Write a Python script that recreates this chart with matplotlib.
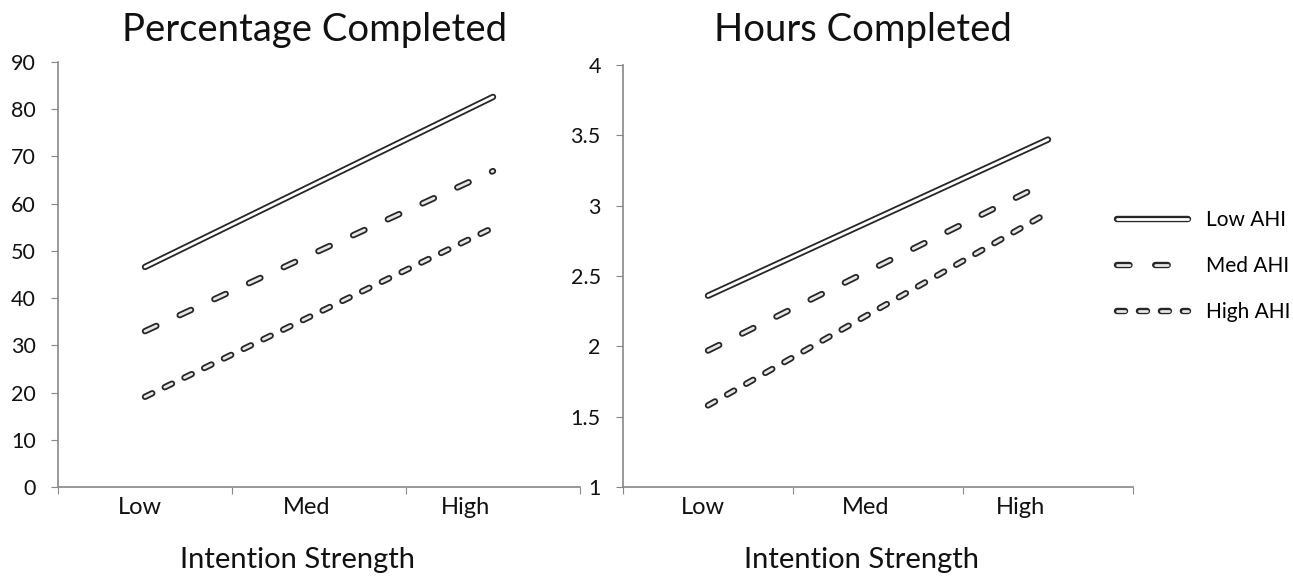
import matplotlib
matplotlib.use("Agg")
import matplotlib.pyplot as plt
import matplotlib.patheffects as pe

plt.rcParams['font.family'] = ['Lato', 'DejaVu Sans']
plt.rcParams['lines.scale_dashes'] = False

categories = ["Low", "Med", "High"]
series_names = ["Low AHI", "Med AHI", "High AHI"]
pct_low_ahi = [46.6, 64.6, 82.6]
pct_med_ahi = [33.0, 50.0, 66.9]
pct_high_ahi = [19.1, 37.0, 54.9]
hrs_low_ahi = [2.36, 2.915, 3.47]
hrs_med_ahi = [1.97, 2.57, 3.17]
hrs_high_ahi = [1.58, 2.265, 2.95]

styles = [
    dict(linestyle='-', inner='#ffffff'),
    dict(linestyle=(0, (9.0, 18.5)), inner='#e6e6e6'),
    dict(linestyle=(0, (5.8, 10.0)), inner='#e6e6e6'),
]

fig = plt.figure(figsize=(12.93, 5.77), dpi=100)
W, H = 1293, 577
ax1 = fig.add_axes([58 / W, 1 - 487 / H, (580 - 58) / W, (487 - 62) / H])
ax2 = fig.add_axes([623 / W, 1 - 487 / H, (1133 - 623) / W, (487 - 65) / H])

label_shift = [-0.03, -0.07, -0.16]

def draw(ax, data):
    x = list(range(len(categories)))
    handles = []
    for vals, name, st in zip(data, series_names, styles):
        ln, = ax.plot(x, vals, linestyle=st['linestyle'], color=st['inner'], lw=2.0,
                      dash_capstyle='round', solid_capstyle='round', label=name,
                      path_effects=[pe.Stroke(linewidth=4.6, foreground='#262626'), pe.Normal()])
        handles.append(ln)
    ax.set_xlim(-0.5, 2.5)
    ax.set_xticks([-0.5, 0.5, 1.5, 2.5])
    ax.set_xticklabels([])
    ax.set_xticks([xi + s for xi, s in zip(x, label_shift)], minor=True)
    ax.set_xticklabels(categories, minor=True)
    ax.tick_params(axis='x', which='minor', length=0, pad=7, labelsize=17, colors='#111111')
    ax.tick_params(axis='x', which='major', length=5, color='#888888', direction='out')
    ax.tick_params(axis='y', length=5, color='#888888', direction='out', labelsize=15.5, pad=11,
                   labelcolor='#111111')
    for s in ['top', 'right']:
        ax.spines[s].set_visible(False)
    for s in ['left', 'bottom']:
        ax.spines[s].set_color('#888888')
        ax.spines[s].set_linewidth(1.2)
    return handles

draw(ax1, [pct_low_ahi, pct_med_ahi, pct_high_ahi])
ax1.set_ylim(0, 90)
ax1.set_yticks(range(0, 91, 10))

handles = draw(ax2, [hrs_low_ahi, hrs_med_ahi, hrs_high_ahi])
ax2.set_ylim(1, 4)
ax2.set_yticks([1, 1.5, 2, 2.5, 3, 3.5, 4])
ax2.set_yticklabels(["1", "1.5", "2", "2.5", "3", "3.5", "4"])

fig.text(315 / W, 1 - 30 / H, "Percentage Completed", ha='center', va='center', fontsize=27.5, color='#111111')
fig.text(863 / W, 1 - 30 / H, "Hours Completed", ha='center', va='center', fontsize=27.5, color='#111111')
fig.text(297 / W, 1 - 560 / H, "Intention Strength", ha='center', va='center', fontsize=21, color='#111111')
fig.text(862 / W, 1 - 560 / H, "Intention Strength", ha='center', va='center', fontsize=21, color='#111111')

fig.legend(handles, series_names, loc='center left', bbox_to_anchor=(1098 / W, 1 - 266 / H),
           frameon=False, fontsize=15, handlelength=3.4, labelspacing=1.25, handletextpad=0.9)

fig.savefig("out.png", dpi=100)
